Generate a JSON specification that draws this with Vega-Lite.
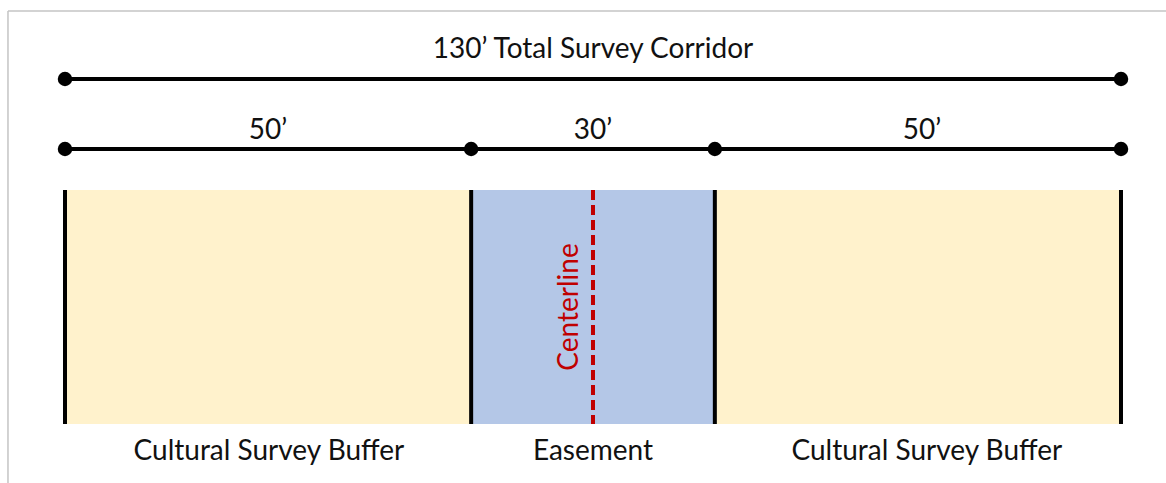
{
  "$schema": "https://vega.github.io/schema/vega-lite/v6.json",
  "width": 1166,
  "height": 483,
  "padding": 0,
  "autosize": {"type": "none"},
  "background": "white",
  "config": {"view": {"stroke": null}},
  "datasets": {
    "zones": [
      {"zone": "buffer", "start": 0, "end": 50, "top": 190, "bottom": 424},
      {"zone": "easement", "start": 50, "end": 80, "top": 190, "bottom": 424},
      {"zone": "buffer", "start": 80, "end": 130, "top": 190, "bottom": 424}
    ],
    "edges": [
      {"ft": 0, "top": 190, "bottom": 424},
      {"ft": 50, "top": 190, "bottom": 424},
      {"ft": 80, "top": 190, "bottom": 424},
      {"ft": 130, "top": 190, "bottom": 424}
    ],
    "center": [{"ft": 65, "top": 190, "bottom": 424}],
    "dims": [
      {"start": 0, "end": 130, "level": 79},
      {"start": 0, "end": 130, "level": 149}
    ],
    "dots": [
      {"ft": 0, "level": 79},
      {"ft": 130, "level": 79},
      {"ft": 0, "level": 149},
      {"ft": 50, "level": 149},
      {"ft": 80, "level": 149},
      {"ft": 130, "level": 149}
    ],
    "frame": [
      {"start": -7.02, "end": -7.02, "top": 11, "bottom": 483},
      {"start": -7.02, "end": 135.6, "top": 11, "bottom": 11}
    ],
    "labels": [
      {"label": "130’ Total Survey Corridor", "ft": 65, "level": 50, "kind": "dim"},
      {"label": "50’", "ft": 25, "level": 130.5, "kind": "dim"},
      {"label": "30’", "ft": 65, "level": 130.5, "kind": "dim"},
      {"label": "50’", "ft": 105.5, "level": 130.5, "kind": "dim"},
      {"label": "Cultural Survey Buffer", "ft": 25.1, "level": 451.5, "kind": "dim"},
      {"label": "Easement", "ft": 65, "level": 451.5, "kind": "dim"},
      {"label": "Cultural Survey Buffer", "ft": 106.1, "level": 451.5, "kind": "dim"}
    ],
    "vlabel": [{"label": "Centerline", "ft": 62.2, "level": 307}]
  },
  "encoding": {},
  "layer": [
    {
      "data": {"name": "frame"},
      "mark": {"type": "rule", "color": "#c4c4c4", "strokeWidth": 1.5},
      "encoding": {
        "x": {"field": "start", "type": "quantitative", "scale": {"domain": [-8.002, 135.54], "nice": false, "zero": false}, "axis": null},
        "x2": {"field": "end"},
        "y": {"field": "top", "type": "quantitative", "scale": {"domain": [0, 483], "reverse": true, "nice": false, "zero": false}, "axis": null},
        "y2": {"field": "bottom"}
      }
    },
    {
      "data": {"name": "zones"},
      "mark": {"type": "rect"},
      "encoding": {
        "x": {"field": "start", "type": "quantitative", "axis": null},
        "x2": {"field": "end"},
        "y": {"field": "top", "type": "quantitative", "axis": null},
        "y2": {"field": "bottom"},
        "color": {"field": "zone", "type": "nominal", "scale": {"domain": ["buffer", "easement"], "range": ["#FFF2CC", "#B4C7E7"]}, "legend": null}
      }
    },
    {
      "data": {"name": "center"},
      "mark": {"type": "rule", "color": "#C00000", "strokeWidth": 4, "strokeDash": [10, 5]},
      "encoding": {
        "x": {"field": "ft", "type": "quantitative", "axis": null},
        "y": {"field": "top", "type": "quantitative", "axis": null},
        "y2": {"field": "bottom"}
      }
    },
    {
      "data": {"name": "edges"},
      "mark": {"type": "rule", "color": "#000000", "strokeWidth": 4},
      "encoding": {
        "x": {"field": "ft", "type": "quantitative", "axis": null},
        "y": {"field": "top", "type": "quantitative", "axis": null},
        "y2": {"field": "bottom"}
      }
    },
    {
      "data": {"name": "dims"},
      "mark": {"type": "rule", "color": "#000000", "strokeWidth": 4},
      "encoding": {
        "x": {"field": "start", "type": "quantitative", "axis": null},
        "x2": {"field": "end"},
        "y": {"field": "level", "type": "quantitative", "axis": null}
      }
    },
    {
      "data": {"name": "dots"},
      "mark": {"type": "circle", "color": "#000000", "opacity": 1, "size": 210},
      "encoding": {
        "x": {"field": "ft", "type": "quantitative", "axis": null},
        "y": {"field": "level", "type": "quantitative", "axis": null}
      }
    },
    {
      "data": {"name": "labels"},
      "mark": {"type": "text", "font": "Lato", "fontSize": 28, "color": "#111111", "baseline": "middle", "align": "center"},
      "encoding": {
        "x": {"field": "ft", "type": "quantitative", "axis": null},
        "y": {"field": "level", "type": "quantitative", "axis": null},
        "text": {"field": "label"}
      }
    },
    {
      "data": {"name": "vlabel"},
      "mark": {"type": "text", "font": "Lato", "fontSize": 28, "color": "#C00000", "baseline": "middle", "align": "center", "angle": 270},
      "encoding": {
        "x": {"field": "ft", "type": "quantitative", "axis": null},
        "y": {"field": "level", "type": "quantitative", "axis": null},
        "text": {"field": "label"}
      }
    }
  ]
}
